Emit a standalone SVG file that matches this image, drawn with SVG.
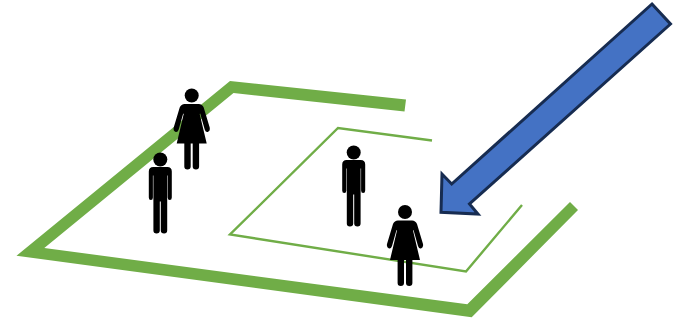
<svg xmlns="http://www.w3.org/2000/svg" xmlns:xlink="http://www.w3.org/1999/xlink" width="683" height="320" viewBox="0 0 683 320">
<style>.g{fill:#70ad47}.t{fill:none;stroke:#70ad47;stroke-width:2.4}.p{fill:#000}.a{fill:#4472c4;stroke:#172c51;stroke-width:3;stroke-linejoin:miter}</style>
<defs>
<g id="man"><circle cx="0" cy="0" r="7"/><path d="M-7 7.5H7Q11.5 7.5 11.5 12V38Q11.5 40.5 9.4 40.5Q7.4 40.5 7.4 38V16H6.9V71Q6.9 74 3.8 74Q.5 74 .5 71V42H-.5V71Q-.5 74 -3.8 74Q-6.9 74 -6.9 71V16H-7.4V38Q-7.4 40.5 -9.4 40.5Q-11.5 40.5 -11.5 38V12Q-11.5 7.5 -7 7.5Z"/></g>
<g id="woman"><circle cx="0" cy="0" r="7"/><path d="M-7 8.5H7Q10.5 8.5 12 12L18 32Q18.7 35.5 16 36.5Q14 37 13 34L8.5 18L8 18.5L15 48H7.4V71Q7.4 74 4.3 74Q1 74 1 71V48H-1V71Q-1 74 -4.3 74Q-7.4 74 -7.4 71V48H-15L-8 18.5L-8.5 18L-13 34Q-14 37 -16 36.5Q-18.7 35.5 -18 32L-12 12Q-10.5 8.5 -7 8.5Z"/></g>
</defs>
<g id="outer-area"><polygon class="g" points="16.5,255.7 230,81 406,99.5 404.5,111.5 233.5,93 44.3,248 467.3,304.3 570,202 578,210 471.7,317.3"/></g>
<g id="inner-area"><polyline class="t" points="432,140.5 338,128 230,234.5 466,271.5 522,205"/></g>
<g id="woman-1" class="p"><use href="#woman" x="191.7" y="95.5"/></g>
<g id="man-1" class="p"><use href="#man" x="160.3" y="159.5"/></g>
<g id="man-2" class="p"><use href="#man" x="353.7" y="152.5"/></g>
<g id="woman-2" class="p"><use href="#woman" x="405" y="212"/></g>
<g id="arrow"><polygon class="a" points="652,4 670.5,24 469.5,204 478,214 441,212.3 442,174 451.7,184"/></g>
</svg>
